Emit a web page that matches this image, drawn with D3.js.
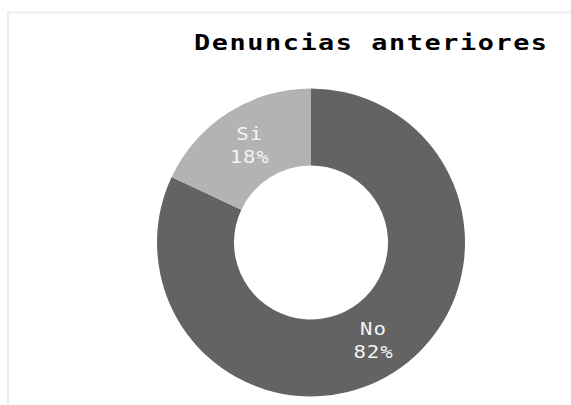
<!DOCTYPE html>
<html>
<head>
<meta charset="utf-8">
<script src="https://cdn.jsdelivr.net/npm/d3@7"></script>
<style>
  body { margin: 0; background: #fff; }
  svg { display: block; }
</style>
</head>
<body>
<svg width="571" height="405"></svg>
<script>
// data
const categories = ['No', 'Si'];
const values = [82, 18];
const sliceLabels = ['82%', '18%'];
const title = 'Denuncias anteriores';

const svg = d3.select('svg');
const width = +svg.attr('width');
const height = +svg.attr('height');

// light frame round the chart
svg.append('path')
    .attr('d', `M8,${height} V12.5 H${width}`)
    .attr('fill', 'none')
    .attr('stroke', '#eeeeee')
    .attr('stroke-width', 2);

// title - wide mono look, stretched a little
svg.append('text')
    .attr('transform', 'translate(194,50) scale(1.22,1)')
    .attr('font-family', 'DejaVu Sans Mono')
    .attr('font-weight', 'bold')
    .attr('font-size', 22)
    .attr('letter-spacing', 1.3)
    .attr('fill', '#000')
    .text(title);

const cx = 311, cy = 242.5;
const outer = 154, inner = 77;

const color = d3.scaleOrdinal()
    .domain(categories)
    .range(['#636363', '#b3b3b3']);

const pie = d3.pie().sort(null).value(d => d.value);
const arc = d3.arc().innerRadius(inner).outerRadius(outer);

const data = categories.map((c, i) => ({ name: c, value: values[i], label: sliceLabels[i] }));

const g = svg.append('g')
    .attr('transform', `translate(${cx},${cy})`);

const slices = g.selectAll('g.slice').data(pie(data))
    .enter().append('g').attr('class', 'slice');

slices.append('path')
    .attr('d', arc)
    .attr('fill', d => color(d.data.name));

const labels = slices.append('text')
    .attr('transform', d => `translate(${arc.centroid(d)}) scale(1.15,1)`)
    .attr('text-anchor', 'middle')
    .attr('font-family', 'DejaVu Sans Mono')
    .attr('font-size', 18)
    .attr('letter-spacing', 0.8)
    .attr('fill', '#f4f4f4');

labels.append('tspan')
    .attr('x', 0.5)
    .attr('y', -5)
    .text(d => d.data.name);
labels.append('tspan')
    .attr('x', 0.5)
    .attr('y', 18)
    .text(d => d.data.label);
</script>
</body>
</html>
